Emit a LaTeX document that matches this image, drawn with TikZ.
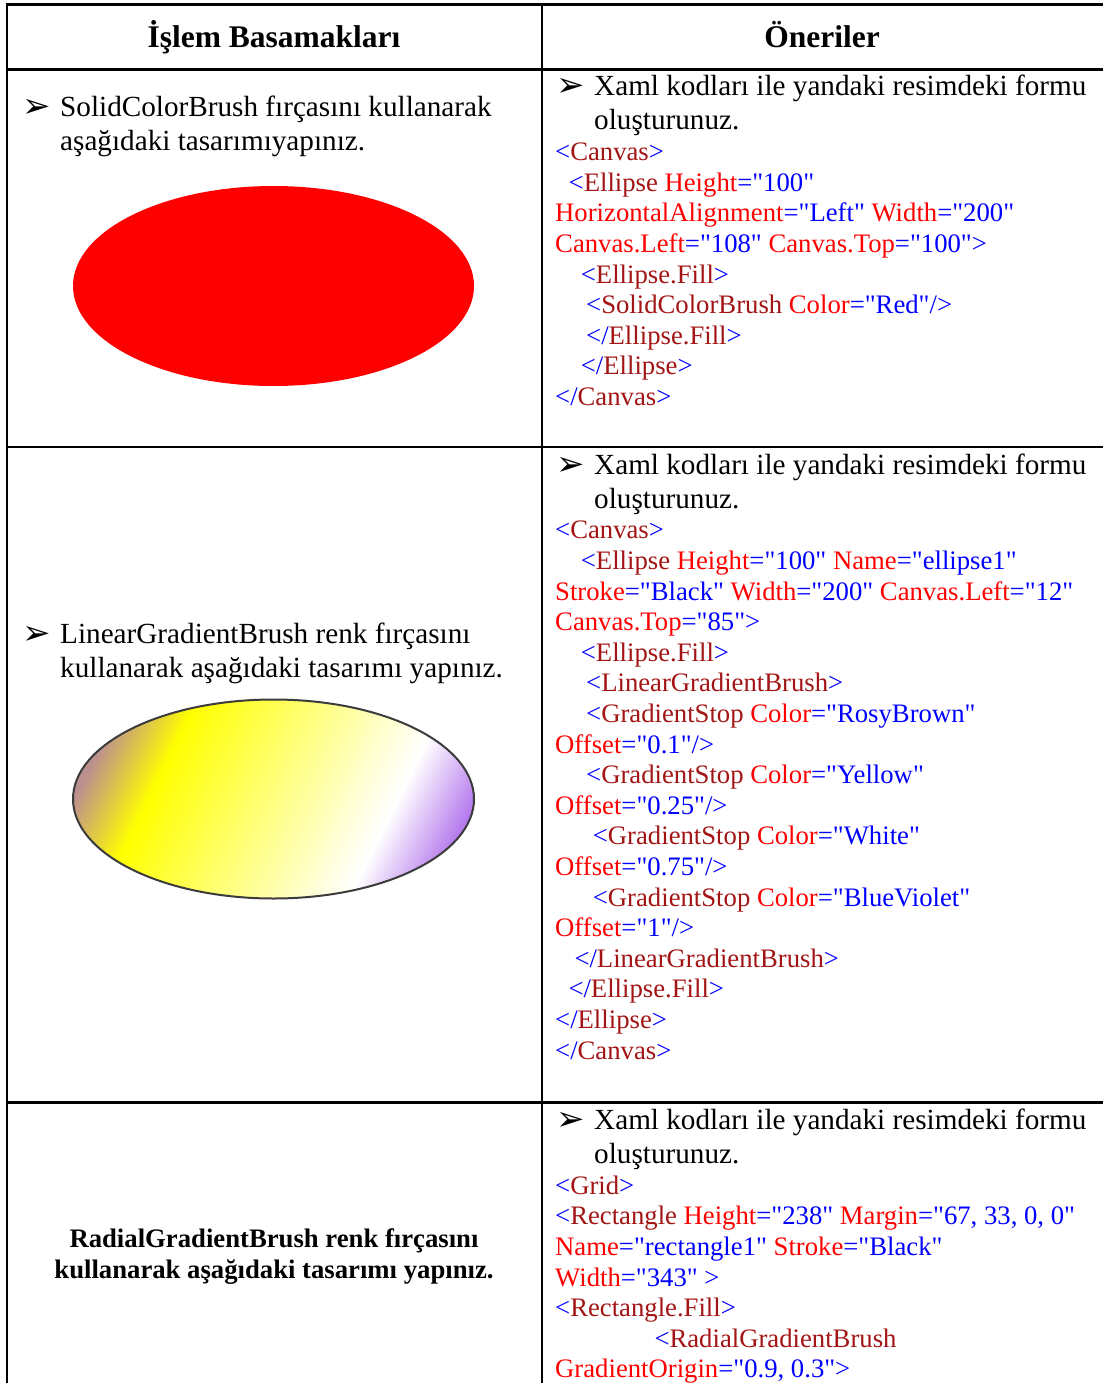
\documentclass[tikz,border=0pt]{standalone}
\usepackage{fontspec}
\setmainfont{Liberation Serif}
\newfontfamily\plainserif{Liberation Serif}
\newfontfamily\symfont{DejaVu Sans}
\definecolor{xblue}{RGB}{0,0,255}
\definecolor{xtag}{RGB}{163,21,21}
\definecolor{xattr}{RGB}{255,0,0}
\definecolor{rosyb}{RGB}{188,143,143}
\definecolor{bviolet}{RGB}{138,43,226}
\definecolor{ellstroke}{RGB}{60,60,60}
\pgfdeclarehorizontalshading{lgbshade}{100bp}{color(0bp)=(rosyb); color(25bp)=(rosyb); color(30bp)=(rosyb); color(37.5bp)=(yellow); color(62.5bp)=(white); color(75bp)=(bviolet); color(100bp)=(bviolet)}
\newcommand\xmlB[1]{\textcolor{xblue}{#1}}
\newcommand\xmlT[1]{\textcolor{xtag}{#1}}
\newcommand\xmlA[1]{\textcolor{xattr}{#1}}
\newcommand\codefont{\plainserif\fontsize{26.7}{30.6}\selectfont}
\newcommand\bodyfont{\plainserif\fontsize{29.2}{34}\selectfont}
\newcommand\hdrfont{\plainserif\fontsize{31.5}{36}\selectfont\bfseries}
\newcommand\boldfont{\plainserif\fontsize{26.7}{31}\selectfont\bfseries}
\tikzset{
  tbl/.style={line width=2.5pt, black},
  codeln/.style={anchor=base west, inner sep=0pt, font=\codefont},
  bodyln/.style={anchor=base west, inner sep=0pt, font=\bodyfont},
  bulletmark/.style={anchor=base west, inner sep=0pt, font=\symfont\fontsize{34}{36}\selectfont},
  hdr/.style={anchor=base, inner sep=0pt, font=\hdrfont},
  boldln/.style={anchor=base, inner sep=0pt, font=\boldfont}
}
\begin{document}
\begin{tikzpicture}[x=1pt,y=-1pt]
\fill[white] (0,0) rectangle (1103,1383);
\useasboundingbox (0,0) rectangle (1103,1383);

% table rules
\draw[tbl] (5.8,4.3) -- (1103,4.3);
\draw[tbl] (5.8,69.3) -- (1103,69.3);
\draw[tbl] (5.8,447) -- (1103,447);
\draw[tbl] (5.8,1102.5) -- (1103,1102.5);
\draw[tbl] (7,3) -- (7,1383);
\draw[tbl] (542,3) -- (542,1383);

% header
\node[hdr] (h1) at (274,48) {İşlem Basamakları};
\node[hdr] (h2) at (822,48) {Öneriler};

% ---------- row 1 left
\node[bulletmark] (b1) at (22,118) {➢};
\node[bodyln] (l1a) at (60,117) {SolidColorBrush fırçasını kullanarak};
\node[bodyln] (l1b) at (60,151) {aşağıdaki tasarımıyapınız.};
\fill[red] (273.5,286) ellipse [x radius=200.5, y radius=100];

% ---------- row 1 right
\node[bulletmark] (b2) at (556,97) {➢};
\node[bodyln] (r1a) at (594,96) {Xaml kodları ile yandaki resimdeki formu};
\node[bodyln] (r1b) at (594,130) {oluşturunuz.};
\node[codeln] (c1l0) at (555,160.7) {\xmlB{<}\xmlT{Canvas}\xmlB{>}};
\node[codeln] (c1l1) at (568.5,191.3) {\xmlB{<}\xmlT{Ellipse} \xmlA{Height}\xmlB{="100"}};
\node[codeln] (c1l2) at (555,221.9) {\xmlA{HorizontalAlignment}\xmlB{="Left"} \xmlA{Width}\xmlB{="200"}};
\node[codeln] (c1l3) at (555,252.5) {\xmlA{Canvas.Left}\xmlB{="108"} \xmlA{Canvas.Top}\xmlB{="100">}};
\node[codeln] (c1l4) at (580.7,283.1) {\xmlB{<}\xmlT{Ellipse.Fill}\xmlB{>}};
\node[codeln] (c1l5) at (586,313.7) {\xmlB{<}\xmlT{SolidColorBrush} \xmlA{Color}\xmlB{="Red"/>}};
\node[codeln] (c1l6) at (586,344.3) {\xmlB{</}\xmlT{Ellipse.Fill}\xmlB{>}};
\node[codeln] (c1l7) at (580.7,374.9) {\xmlB{</}\xmlT{Ellipse}\xmlB{>}};
\node[codeln] (c1l8) at (555,405.5) {\xmlB{</}\xmlT{Canvas}\xmlB{>}};

% ---------- row 2 left
\node[bulletmark] (b3) at (22,644) {➢};
\node[bodyln] (l2a) at (60,643) {LinearGradientBrush renk fırçasını};
\node[bodyln] (l2b) at (60,677) {kullanarak aşağıdaki tasarımı yapınız.};
\begin{scope}
  \clip (273.5,799) ellipse [x radius=200.5, y radius=99.5];
  \begin{scope}[transform canvas={shift={(73,699.5)}, rotate=-26.4}]
    \shade[shading=lgbshade] (0,-320) rectangle (447,320);
  \end{scope}
\end{scope}
\draw[ellstroke, line width=2pt] (273.5,799) ellipse [x radius=200.5, y radius=99.5];

% ---------- row 2 right
\node[bulletmark] (b4) at (556,475) {➢};
\node[bodyln] (r2a) at (594,474) {Xaml kodları ile yandaki resimdeki formu};
\node[bodyln] (r2b) at (594,508) {oluşturunuz.};
\node[codeln] (c2l0) at (555,538.8) {\xmlB{<}\xmlT{Canvas}\xmlB{>}};
\node[codeln] (c2l1) at (580.7,569.4) {\xmlB{<}\xmlT{Ellipse} \xmlA{Height}\xmlB{="100"} \xmlA{Name}\xmlB{="ellipse1"}};
\node[codeln] (c2l2) at (555,600) {\xmlA{Stroke}\xmlB{="Black"} \xmlA{Width}\xmlB{="200"} \xmlA{Canvas.Left}\xmlB{="12"}};
\node[codeln] (c2l3) at (555,630.6) {\xmlA{Canvas.Top}\xmlB{="85">}};
\node[codeln] (c2l4) at (580.7,661.2) {\xmlB{<}\xmlT{Ellipse.Fill}\xmlB{>}};
\node[codeln] (c2l5) at (586,691.8) {\xmlB{<}\xmlT{LinearGradientBrush}\xmlB{>}};
\node[codeln] (c2l6) at (586,722.4) {\xmlB{<}\xmlT{GradientStop} \xmlA{Color}\xmlB{="RosyBrown"}};
\node[codeln] (c2l7) at (555,753) {\xmlA{Offset}\xmlB{="0.1"/>}};
\node[codeln] (c2l8) at (586,783.6) {\xmlB{<}\xmlT{GradientStop} \xmlA{Color}\xmlB{="Yellow"}};
\node[codeln] (c2l9) at (555,814.2) {\xmlA{Offset}\xmlB{="0.25"/>}};
\node[codeln] (c2l10) at (592.7,844.8) {\xmlB{<}\xmlT{GradientStop} \xmlA{Color}\xmlB{="White"}};
\node[codeln] (c2l11) at (555,875.4) {\xmlA{Offset}\xmlB{="0.75"/>}};
\node[codeln] (c2l12) at (592.7,906) {\xmlB{<}\xmlT{GradientStop} \xmlA{Color}\xmlB{="BlueViolet"}};
\node[codeln] (c2l13) at (555,936.6) {\xmlA{Offset}\xmlB{="1"/>}};
\node[codeln] (c2l14) at (574.3,967.2) {\xmlB{</}\xmlT{LinearGradientBrush}\xmlB{>}};
\node[codeln] (c2l15) at (568.3,997.8) {\xmlB{</}\xmlT{Ellipse.Fill}\xmlB{>}};
\node[codeln] (c2l16) at (555,1028.4) {\xmlB{</}\xmlT{Ellipse}\xmlB{>}};
\node[codeln] (c2l17) at (555,1059) {\xmlB{</}\xmlT{Canvas}\xmlB{>}};

% ---------- row 3 left
\node[boldln] (l3a) at (274,1247) {RadialGradientBrush renk fırçasını};
\node[boldln] (l3b) at (274,1278) {kullanarak aşağıdaki tasarımı yapınız.};

% ---------- row 3 right
\node[bulletmark] (b5) at (556,1130.3) {➢};
\node[bodyln] (r3a) at (594,1129.3) {Xaml kodları ile yandaki resimdeki formu};
\node[bodyln] (r3b) at (594,1163.3) {oluşturunuz.};
\node[codeln] (c3l0) at (555,1194.3) {\xmlB{<}\xmlT{Grid}\xmlB{>}};
\node[codeln] (c3l1) at (555,1224.9) {\xmlB{<}\xmlT{Rectangle} \xmlA{Height}\xmlB{="238"} \xmlA{Margin}\xmlB{="67, 33, 0, 0"}};
\node[codeln] (c3l2) at (555,1255.5) {\xmlA{Name}\xmlB{="rectangle1"} \xmlA{Stroke}\xmlB{="Black"}};
\node[codeln] (c3l3) at (555,1286.1) {\xmlA{Width}\xmlB{="343" >}};
\node[codeln] (c3l4) at (555,1316.7) {\xmlB{<}\xmlT{Rectangle.Fill}\xmlB{>}};
\node[codeln] (c3l5) at (654.3,1347.3) {\xmlB{<}\xmlT{RadialGradientBrush}};
\node[codeln] (c3l6) at (555,1377.9) {\xmlA{GradientOrigin}\xmlB{="0.9, 0.3">}};
\end{tikzpicture}
\end{document}
